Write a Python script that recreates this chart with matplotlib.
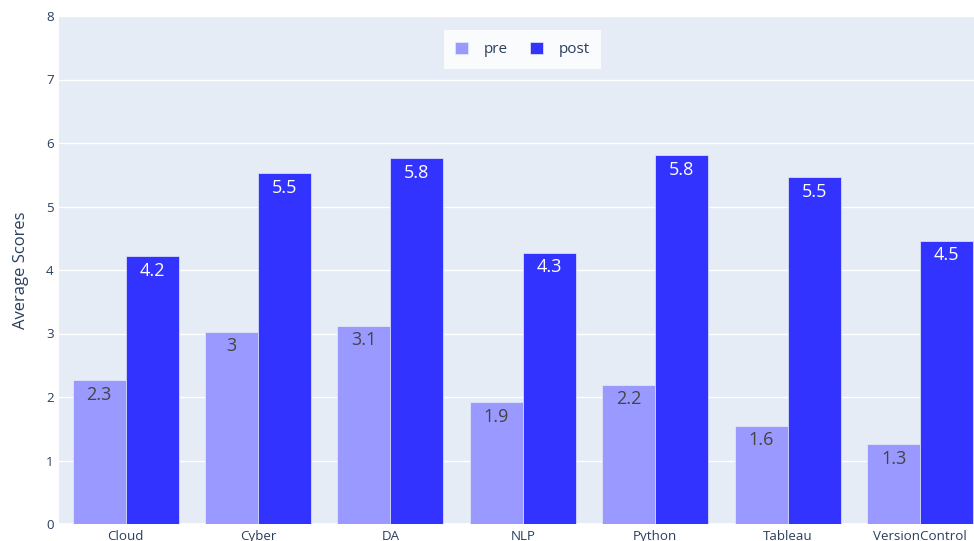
import numpy as np
import matplotlib.pyplot as plt
from matplotlib.patches import Patch

plt.rcParams['font.family'] = ['Open Sans', 'DejaVu Sans']

skills = ['Cloud', 'Cyber', 'DA', 'NLP', 'Python', 'Tableau', 'VersionControl']
pre = [2.26, 3.03, 3.12, 1.92, 2.19, 1.55, 1.26]
post = [4.22, 5.52, 5.76, 4.27, 5.81, 5.46, 4.46]

BG = '#E5ECF6'
TXT = '#2a3f5f'
PRE_C = '#9999ff'
POST_C = '#3333ff'

fig = plt.figure(figsize=(9.74, 5.41), dpi=100)
# plot area runs a little past the right edge of the canvas
ax = fig.add_axes([59.3 / 974, 17 / 541, 927.2 / 974, 508 / 541])
ax.set_facecolor(BG)

x = np.arange(len(skills))
w = 0.4
b1 = ax.bar(x - w / 2, pre, w, color=PRE_C, edgecolor=BG, linewidth=0.5, zorder=3)
b2 = ax.bar(x + w / 2, post, w, color=POST_C, edgecolor=BG, linewidth=0.5, zorder=3)

def fmt(v):
    return f'{v:.2g}'

for bars, vals, col in ((b1, pre, '#444444'), (b2, post, 'white')):
    for r, v in zip(bars, vals):
        ax.annotate(fmt(v), (r.get_x() + r.get_width() / 2, v),
                    xytext=(0, -4), textcoords='offset points',
                    ha='center', va='top', fontsize=13, color=col, zorder=4)

ax.set_xlim(-0.5, len(skills) - 0.5)
ax.set_ylim(0, 8)
ax.set_yticks(range(0, 9))
ax.set_xticks(x)
ax.set_xticklabels(skills)
ax.grid(axis='y', color='white', linewidth=1, zorder=1)
ax.axhline(0, color='white', linewidth=2, zorder=2)
for s in ax.spines.values():
    s.set_visible(False)
ax.tick_params(length=0, labelsize=9.6, colors=TXT, pad=4)
ax.set_ylabel('Average Scores', fontsize=12, color=TXT, labelpad=12)

handles = [Patch(facecolor=PRE_C, edgecolor=BG, linewidth=0.5, label='pre'),
           Patch(facecolor=POST_C, edgecolor=BG, linewidth=0.5, label='post')]
leg = fig.legend(handles=handles, ncol=2, loc='center',
                 bbox_to_anchor=(522.5 / 974, 1 - 49.5 / 541),
                 frameon=True, fancybox=False, facecolor='white', edgecolor='white',
                 fontsize=11, handlelength=0.85, handleheight=0.85,
                 handletextpad=1.0, columnspacing=1.5, borderpad=0.75)
leg.get_frame().set_linewidth(0)
for t in leg.get_texts():
    t.set_color(TXT)

fig.savefig('out.png', dpi=100)
